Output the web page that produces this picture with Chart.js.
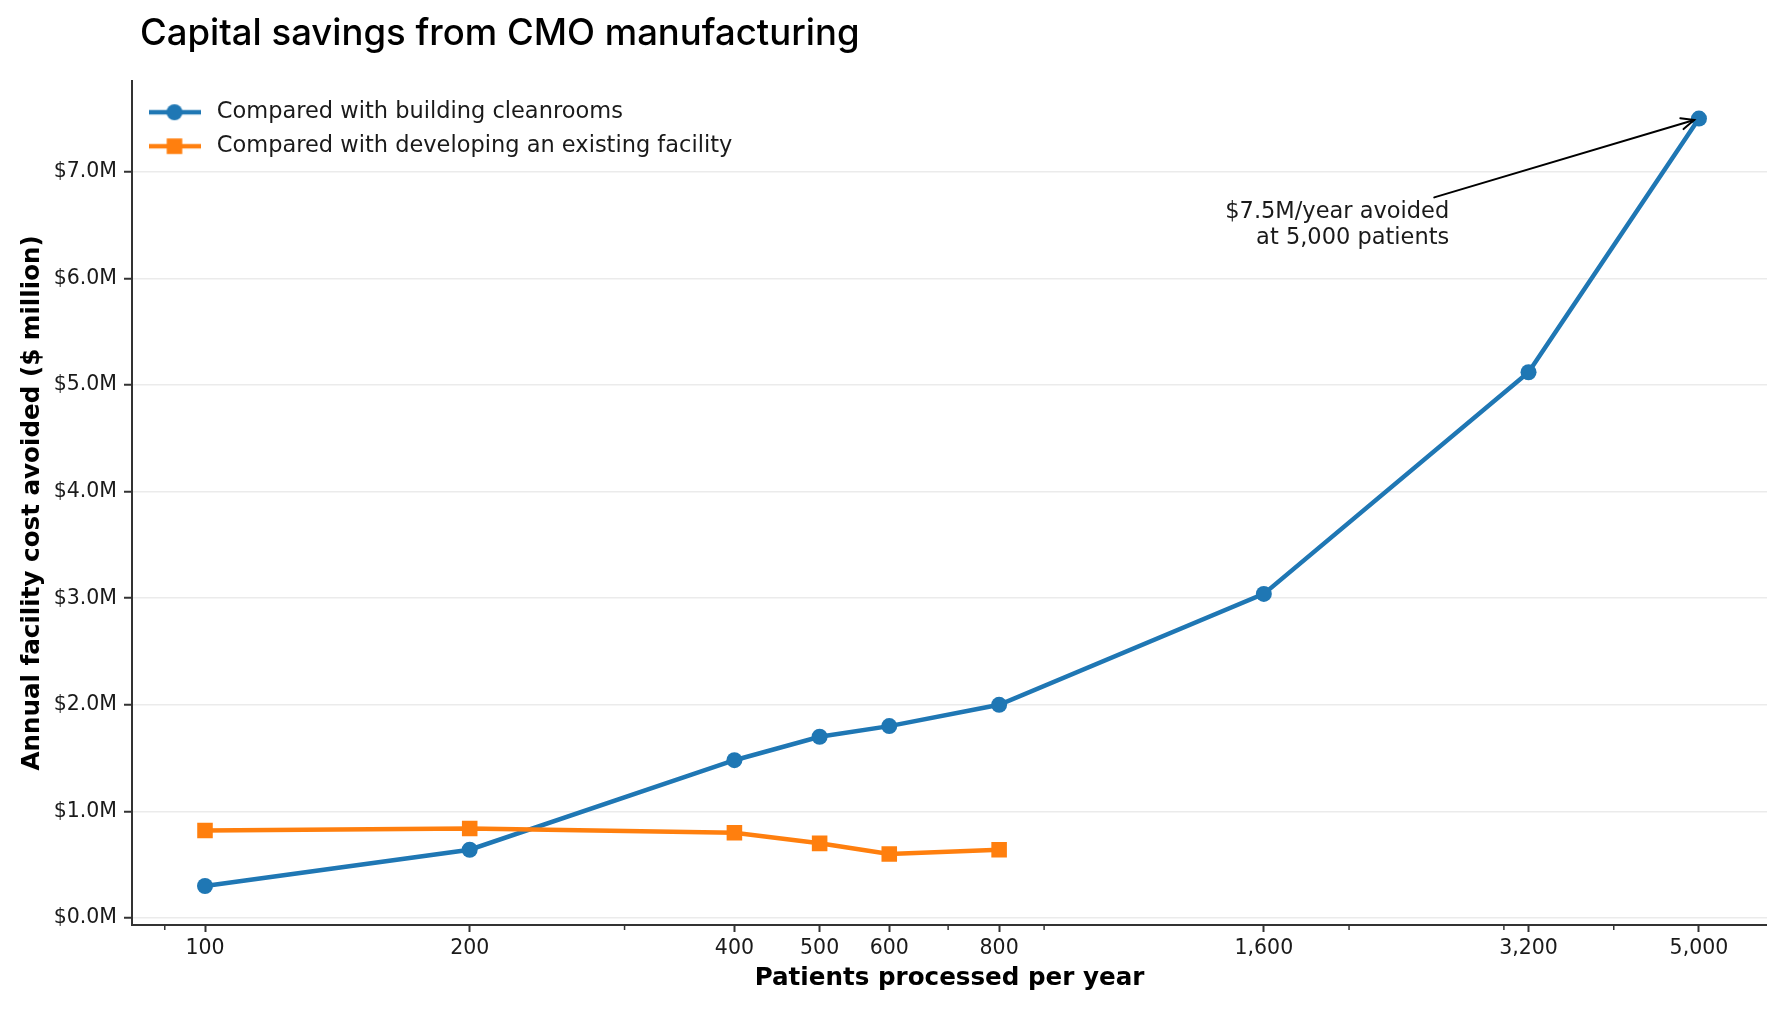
<!DOCTYPE html>
<html>
<head>
<meta charset="utf-8">
<script src="https://cdn.jsdelivr.net/npm/chart.js@4.4.1/dist/chart.umd.min.js"></script>
<style>
  html, body { margin: 0; padding: 0; background: #fff; overflow: hidden; }
  canvas { display: block; }
</style>
</head>
<body>
<canvas id="chart" width="1767" height="1019"></canvas>
<script>
// data ($ million per year)
const patients = [100, 200, 400, 500, 600, 800, 1600, 3200, 5000];
const cleanroomSavings = [0.30, 0.64, 1.48, 1.70, 1.80, 2.00, 3.04, 5.12, 7.50];
const facilityPatients = [100, 200, 400, 500, 600, 800];
const facilitySavings = [0.82, 0.84, 0.80, 0.70, 0.60, 0.64];

const xMajorTicks = [100, 200, 400, 500, 600, 800, 1600, 3200, 5000];
const xMinorTicks = [90, 300, 700, 900, 2000, 3000, 4000];
const yTicks = [0, 1, 2, 3, 4, 5, 6, 7];

const annotLines = ['$7.5M/year avoided', 'at 5,000 patients'];
const annotText = { x: 2600, y: 6.62 };
const annotFrom = { x: 2500, y: 6.76 };
const annotTo = { x: 5000, y: 7.5 };

const BLUE = '#1f77b4';
const ORANGE = '#ff7f0e';
const INK = '#1a1a1a';

Chart.defaults.font.family = 'DejaVu Sans';
Chart.defaults.color = INK;

// legend glyph: short line with the marker on it
function legendIcon(color, style, radius) {
    const c = document.createElement('canvas');
    c.width = 52;
    c.height = 24;
    const g = c.getContext('2d');
    g.strokeStyle = color;
    g.fillStyle = color;
    g.lineWidth = 4.5;
    g.beginPath();
    g.moveTo(0, 12);
    g.lineTo(52, 12);
    g.stroke();
    Chart.helpers.drawPoint(g, { pointStyle: style, radius: radius, borderWidth: 0 }, 26, 12);
    return c;
}
const legendIcons = [legendIcon(BLUE, 'circle', 8), legendIcon(ORANGE, 'rect', 11)];

// title sits a little right of the y axis line
const titleNudge = {
    id: 'titleNudge',
    afterLayout(chart) {
        chart.titleBlock.left += 8;
        chart.titleBlock.right += 8;
    }
};

const minorTicksPlugin = {
    id: 'minorTicks',
    afterDraw(chart) {
        const { ctx, chartArea, scales: { x } } = chart;
        ctx.save();
        ctx.strokeStyle = '#333';
        ctx.lineWidth = 1.5;
        xMinorTicks.forEach(v => {
            const px = x.getPixelForValue(v);
            ctx.beginPath();
            ctx.moveTo(px, chartArea.bottom + 1);
            ctx.lineTo(px, chartArea.bottom + 5);
            ctx.stroke();
        });
        ctx.restore();
    }
};

const annotationPlugin = {
    id: 'calloutArrow',
    afterDatasetsDraw(chart) {
        const { ctx, scales: { x, y } } = chart;
        const fx = x.getPixelForValue(annotFrom.x), fy = y.getPixelForValue(annotFrom.y);
        let tx = x.getPixelForValue(annotTo.x), ty = y.getPixelForValue(annotTo.y);
        const ang = Math.atan2(ty - fy, tx - fx);
        tx -= Math.cos(ang) * 5;
        ty -= Math.sin(ang) * 5;
        ctx.save();
        ctx.strokeStyle = '#000';
        ctx.lineWidth = 2;
        ctx.lineCap = 'round';
        ctx.beginPath();
        ctx.moveTo(fx, fy);
        ctx.lineTo(tx, ty);
        ctx.stroke();
        const h = 14, a = 0.42;
        ctx.beginPath();
        ctx.moveTo(tx - h * Math.cos(ang - a), ty - h * Math.sin(ang - a));
        ctx.lineTo(tx, ty);
        ctx.lineTo(tx - h * Math.cos(ang + a), ty - h * Math.sin(ang + a));
        ctx.stroke();

        ctx.font = '22.5px "DejaVu Sans"';
        ctx.fillStyle = INK;
        ctx.textAlign = 'right';
        ctx.textBaseline = 'middle';
        const ax = x.getPixelForValue(annotText.x), ay = y.getPixelForValue(annotText.y);
        annotLines.forEach((t, i) => ctx.fillText(t, ax, ay + i * 26));
        ctx.restore();
    }
};

new Chart(document.getElementById('chart').getContext('2d'), {
    type: 'line',
    data: {
        datasets: [{
            label: 'Compared with building cleanrooms',
            data: patients.map((p, i) => ({ x: p, y: cleanroomSavings[i] })),
            borderColor: BLUE,
            backgroundColor: BLUE,
            borderWidth: 4.5,
            pointStyle: 'circle',
            pointRadius: 8,
            pointBorderWidth: 0,
            order: 1
        }, {
            label: 'Compared with developing an existing facility',
            data: facilityPatients.map((p, i) => ({ x: p, y: facilitySavings[i] })),
            borderColor: ORANGE,
            backgroundColor: ORANGE,
            borderWidth: 4.5,
            pointStyle: 'rect',
            pointRadius: 11,
            pointBorderWidth: 0,
            order: 0
        }]
    },
    options: {
        responsive: false,
        animation: false,
        layout: { autoPadding: false, padding: { left: 8, right: 0, top: 0, bottom: 0 } },
        plugins: {
            title: {
                display: true,
                text: 'Capital savings from CMO manufacturing',
                align: 'start',
                fullSize: false,
                color: '#000',
                font: { family: 'Inter', size: 36.5, weight: 500 },
                padding: { top: 12, bottom: 25 }
            },
            legend: {
                position: 'chartArea',
                align: 'start',
                // the chartArea legend is laid out from the canvas top, so an empty title pushes the rows down
                title: { display: true, text: '', padding: { top: 88.5, bottom: 0 }, font: { size: 1, lineHeight: 1 } },
                labels: {
                    usePointStyle: true,
                    pointStyleWidth: 62,
                    padding: 11.5,
                    color: INK,
                    font: { size: 22.5 },
                    sort: (a, b) => a.datasetIndex - b.datasetIndex,
                    generateLabels(chart) {
                        const items = Chart.defaults.plugins.legend.labels.generateLabels(chart);
                        items.forEach(it => { it.pointStyle = legendIcons[it.datasetIndex]; });
                        return items;
                    }
                }
            },
            tooltip: { enabled: false }
        },
        scales: {
            x: {
                type: 'logarithmic',
                min: 82.6,
                max: 5975,
                afterBuildTicks: s => { s.ticks = xMajorTicks.map(v => ({ value: v })); },
                afterFit: s => {
                    s.height = 94;
                    s.paddingLeft = 0;
                    s.paddingRight = 0;
                },
                ticks: {
                    autoSkip: false,
                    maxRotation: 0,
                    padding: 4,
                    color: INK,
                    font: { size: 20.5 },
                    callback: v => Number(v).toLocaleString('en-US')
                },
                grid: { drawOnChartArea: false, drawTicks: true, tickLength: 7, tickWidth: 2, tickColor: '#333' },
                border: { color: '#333', width: 2 },
                title: {
                    display: true,
                    text: 'Patients processed per year',
                    color: '#000',
                    font: { size: 24.6, weight: 'bold' },
                    padding: { top: 4, bottom: 26 }
                }
            },
            y: {
                min: -0.066,
                max: 7.854,
                afterBuildTicks: s => { s.ticks = yTicks.map(v => ({ value: v })); },
                afterFit: s => { s.width = 124; },
                ticks: {
                    padding: 7,
                    color: INK,
                    font: { size: 20.5 },
                    callback: v => '$' + Number(v).toFixed(1) + 'M'
                },
                grid: { color: '#ebebeb', lineWidth: 1.5, drawTicks: true, tickLength: 8, tickWidth: 2, tickColor: '#333' },
                border: { color: '#333', width: 2 },
                title: {
                    display: true,
                    text: 'Annual facility cost avoided ($ million)',
                    color: '#000',
                    font: { size: 24.6, weight: 'bold' },
                    padding: { top: 10, bottom: 0 }
                }
            }
        }
    },
    plugins: [titleNudge, minorTicksPlugin, annotationPlugin]
});
</script>
</body>
</html>
